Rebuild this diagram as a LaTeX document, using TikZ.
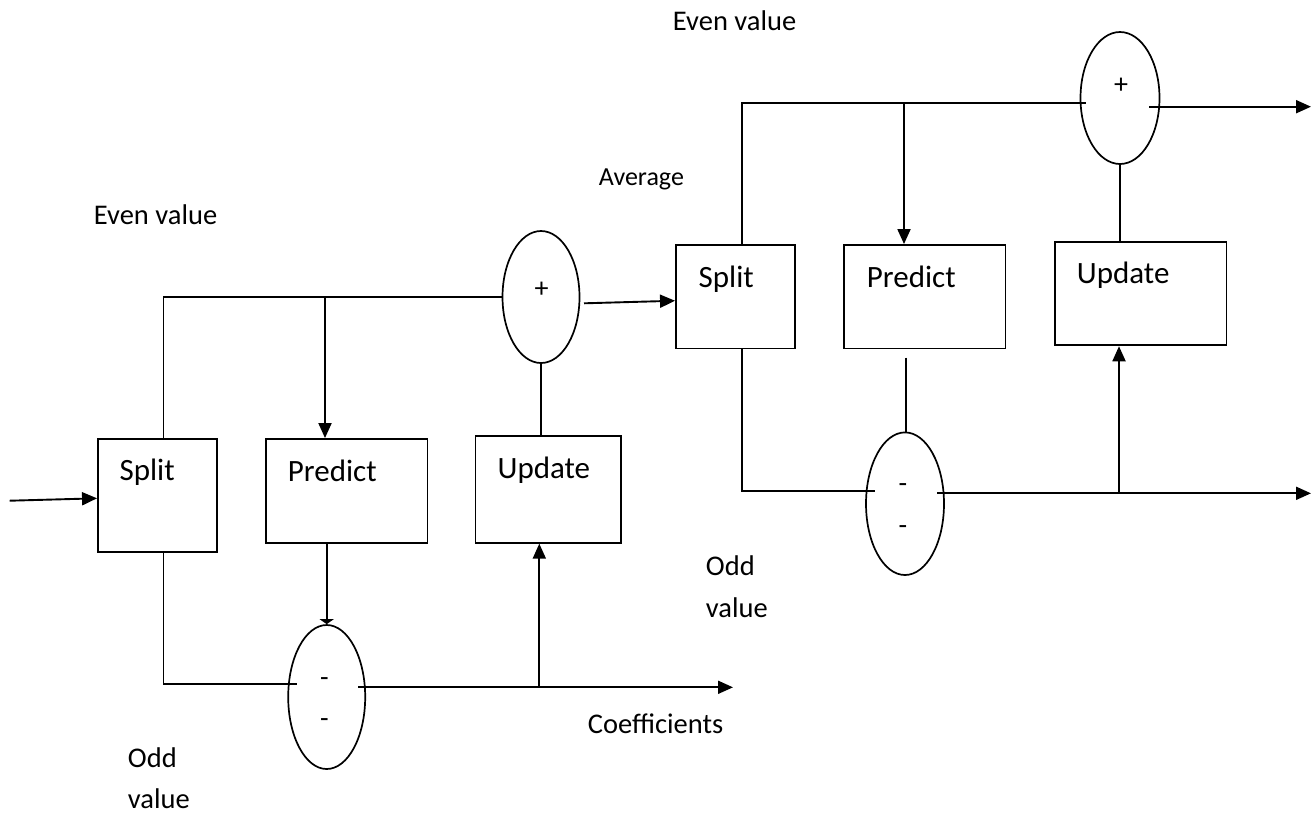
\documentclass[tikz,border=0pt]{standalone}
\usepackage{fontspec}
\setmainfont{Carlito}
\usetikzlibrary{arrows.meta,shapes.geometric}
\begin{document}
\begin{tikzpicture}[x=1pt,y=-1pt,
  line width=1.9pt,
  box/.style={draw, rectangle, inner sep=0pt, line width=1.9pt},
  summer/.style={draw, ellipse, inner sep=0pt, line width=1.7pt},
  boxtext/.style={font=\fontsize{31}{37}\selectfont, inner sep=0pt, anchor=base west},
  lbl/.style={font=\fontsize{28.5}{34}\selectfont, inner sep=0pt, anchor=base west},
  sign/.style={font=\fontsize{28}{32}\selectfont, inner sep=0pt, anchor=base},
  arr/.style={-{Triangle[length=15pt,width=13pt]}},
  flatarr/.style={-{Triangle[length=5pt,width=14pt]}},
]
\useasboundingbox[fill=white] (0,0) rectangle (1313,812);

% ---------- left stage ----------
\node[box, minimum width=119pt, minimum height=113pt] (s1) at (157.5,495.5) {};
\node[box, minimum width=161.5pt, minimum height=104pt] (p1) at (346.75,491) {};
\node[box, minimum width=145.5pt, minimum height=107pt] (u1) at (548.25,489.2) {};
\node[summer, minimum width=77pt, minimum height=132pt] (e1) at (541,297) {};
\node[summer, minimum width=77pt, minimum height=144pt] (m1) at (326.7,697) {};

\node[boxtext] (s1t) at (118.6,480) {Split};
\node[boxtext] (p1t) at (287,481) {Predict};
\node[boxtext] (u1t) at (496.7,478) {Update};

\node[sign] (e1s) at (541.7,297.5) {+};
\node[sign] (m1a) at (324.3,686.5) {-};
\node[sign] (m1b) at (324.3,727.5) {-};

\node[lbl] (ev1) at (93,224) {Even value};
\node[lbl] (od1) at (127,767) {Odd};
\node[lbl] (va1) at (127,808) {value};
\node[lbl] (cf) at (587,733) {Coefficients};

% ---------- right stage ----------
\node[box, minimum width=119pt, minimum height=103.5pt] (s2) at (735.5,296.75) {};
\node[box, minimum width=161.5pt, minimum height=103.5pt] (p2) at (924.75,296.75) {};
\node[box, minimum width=171.9pt, minimum height=103.6pt] (u2) at (1140.55,293.5) {};
\node[summer, minimum width=79pt, minimum height=132pt] (e2) at (1120,98) {};
\node[summer, minimum width=78pt, minimum height=142.6pt] (m2) at (905,503.7) {};

\node[boxtext] (s2t) at (697.7,287.3) {Split};
\node[boxtext] (p2t) at (866,287.3) {Predict};
\node[boxtext] (u2t) at (1076,283) {Update};

\node[sign] (e2s) at (1121,93) {+};
\node[sign] (m2a) at (903,492.5) {-};
\node[sign] (m2b) at (903,534.5) {-};

\node[lbl] (ev2) at (672,30) {Even value};
\node[lbl, font=\fontsize{26}{31}\selectfont] (avg) at (598,185) {Average};
\node[lbl] (od2) at (705,575) {Odd};
\node[lbl] (va2) at (705,617) {value};

% ---------- coordinates ----------
\coordinate (in1) at (9.6,500.7);
\coordinate (t1) at (163.5,297);
\coordinate (j1) at (325,297);
\coordinate (a1) at (584,303.3);
\coordinate (b1) at (296.7,684.3);
\coordinate (o1s) at (358,687.3);
\coordinate (o1) at (733,687.3);
\coordinate (j2) at (539.3,687.3);

\coordinate (t2) at (742,103.3);
\coordinate (j3) at (904,103.3);
\coordinate (t2e) at (1086,103.3);
\coordinate (o2s) at (1149,106.7);
\coordinate (o2) at (1311,106.7);
\coordinate (b2) at (874.8,491);
\coordinate (c2) at (906,357.7);
\coordinate (o3s) at (937.4,493.3);
\coordinate (o3) at (1311,493.3);
\coordinate (j4) at (1119,493.3);

% ---------- connectors, left ----------
\draw[arr] (in1) -- ([yshift=-2.8pt]s1.west);
\draw (s1.north -| t1) -- (t1) -- (e1.west);
\draw[arr] (j1) -- (j1 |- p1.north);
\draw (e1.south) -- (e1.south |- u1.north);
\draw[arr] (a1) -- ([yshift=-4pt]s2.west);
\draw (s1.south -| t1) |- (b1);
\draw[flatarr] (m1.north |- p1.south) -- (m1.north);
\draw[arr] (o1s) -- (o1);
\draw[arr] (j2) -- (j2 |- u1.south);

% ---------- connectors, right ----------
\draw (s2.north -| t2) -- (t2) -- (t2e);
\draw[arr] (j3) -- (j3 |- p2.north);
\draw (e2.south) -- (e2.south |- u2.north);
\draw[arr] (o2s) -- (o2);
\draw (s2.south -| t2) |- (b2);
\draw (c2) -- (c2 |- m2.north);
\draw[arr] (o3s) -- (o3);
\draw[arr] (j4) -- (j4 |- u2.south);
\end{tikzpicture}
\end{document}
